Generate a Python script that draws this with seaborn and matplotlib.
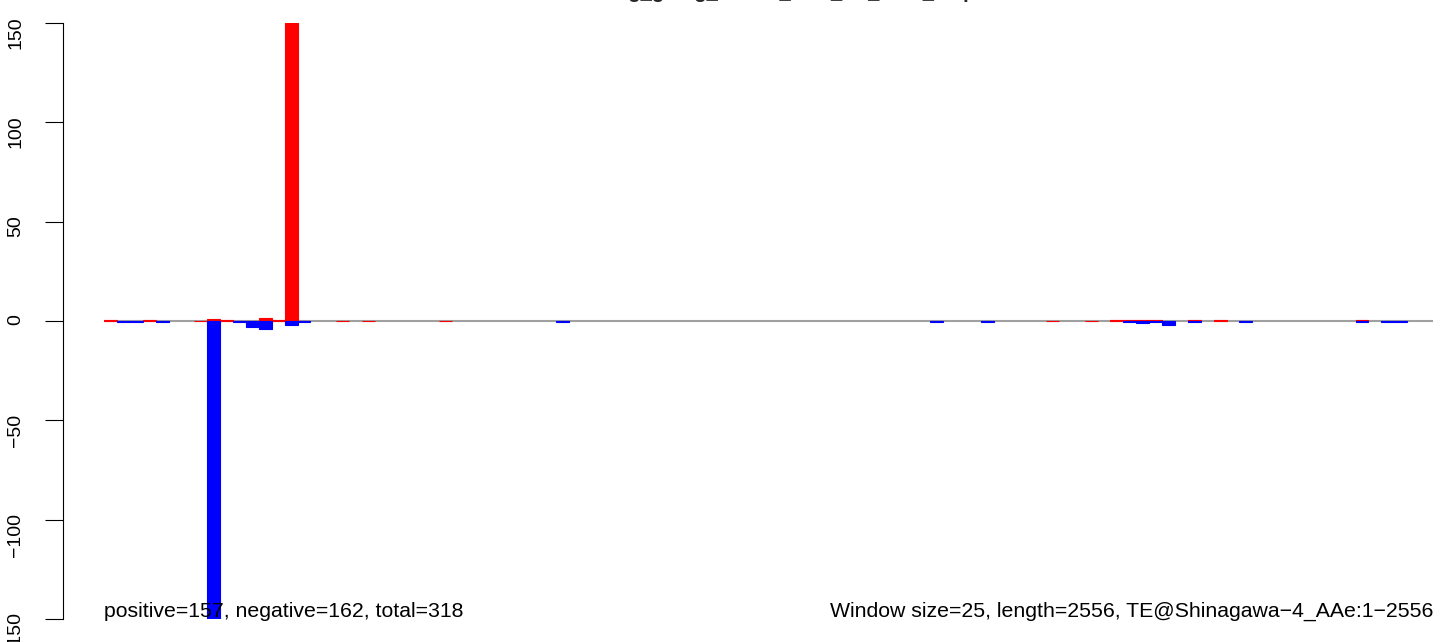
import numpy as np
import pandas as pd
import seaborn as sns
import matplotlib
matplotlib.use("Agg")
import matplotlib.pyplot as plt

# ==========================================
# 1. DATA (25 bp windows along the TE, 103 windows)
# ==========================================
n_windows = 103

# red = positive (sense) signal, window index -> value
pos_windows = [0, 3, 7, 8, 9, 10, 11, 12, 13, 14, 15, 18, 20, 26,
               73, 76, 78, 79, 80, 81, 84, 86, 97]
pos_values = [0.3, 0.3, 0.1, 1.2, 0.3, 0.2, 0.2, 1.7, 0.3, 150.0, 0.2, 0.05, 0.05, 0.05,
              0.05, 0.05, 0.3, 0.3, 0.3, 0.3, 0.3, 0.3, 0.3]

# blue = negative (antisense) signal
neg_windows = [1, 2, 4, 8, 10, 11, 12, 14, 15, 35,
               64, 68, 79, 80, 81, 82, 84, 88, 97, 99, 100]
neg_values = [-0.3, -0.3, -0.3, -150.0, -0.5, -2.8, -4.0, -2.0, -0.5, -0.3,
              -0.3, -0.3, -0.3, -1.0, -0.3, -1.8, -0.3, -0.3, -0.3, -0.3, -0.3]

yticks = [-150, -100, -50, 0, 50, 100, 150]

title = "Reading_going_strand_bias_TE_Shin_map"
left_note = "positive=157, negative=162, total=318"
right_note = "Window size=25, length=2556, TE@Shinagawa\u22124_AAe:1\u22122556"

df_pos = pd.DataFrame({"window": pos_windows, "value": pos_values})
df_neg = pd.DataFrame({"window": neg_windows, "value": neg_values})
order = list(range(n_windows))

# ==========================================
# 2. PLOT
# ==========================================
sns.set_theme(style="ticks")
plt.rcParams["font.family"] = ["Liberation Sans", "DejaVu Sans"]

fig = plt.figure(figsize=(14.44, 6.42), dpi=100)
ax = fig.add_axes([104 / 1444, 1 - 619 / 642, 1329 / 1444, 596 / 642])

ax.axhline(0, color="#a0a0a0", lw=1.5, zorder=0)

sns.barplot(data=df_pos, x="window", y="value", order=order, color="red",
            saturation=1, width=1.0, errorbar=None, edgecolor="red",
            linewidth=0.8, ax=ax)
sns.barplot(data=df_neg, x="window", y="value", order=order, color="blue",
            saturation=1, width=1.0, errorbar=None, edgecolor="blue",
            linewidth=0.8, ax=ax)

ax.set_xlim(-0.5, n_windows - 0.5)
ax.set_ylim(-150, 150)
ax.set_xticks([])
ax.set_xlabel("")
ax.set_ylabel("")
ax.set_yticks(yticks)
ax.set_yticklabels([str(t).replace("-", "\u2212") for t in yticks])
ax.tick_params(axis="y", length=13, width=0.8, pad=15, labelsize=14,
               labelrotation=90, colors="black")
for lab in ax.get_yticklabels():
    lab.set_va("center")

for side in ["top", "right", "bottom"]:
    ax.spines[side].set_visible(False)
ax.spines["left"].set_position(("outward", 29.5))
ax.spines["left"].set_linewidth(0.8)
ax.spines["left"].set_color("black")

ax.text(0, 0.003, left_note, transform=ax.transAxes, ha="left",
        va="baseline", fontsize=15.3, color="black")
ax.text(1, 0.003, right_note, transform=ax.transAxes, ha="right",
        va="baseline", fontsize=15.3, color="black")

fig.text(768.5 / 1444, 1 + 1.5 / 642, title, ha="center", va="baseline",
         fontsize=14.5, fontweight="bold")

fig.savefig("out.png", dpi=100)
